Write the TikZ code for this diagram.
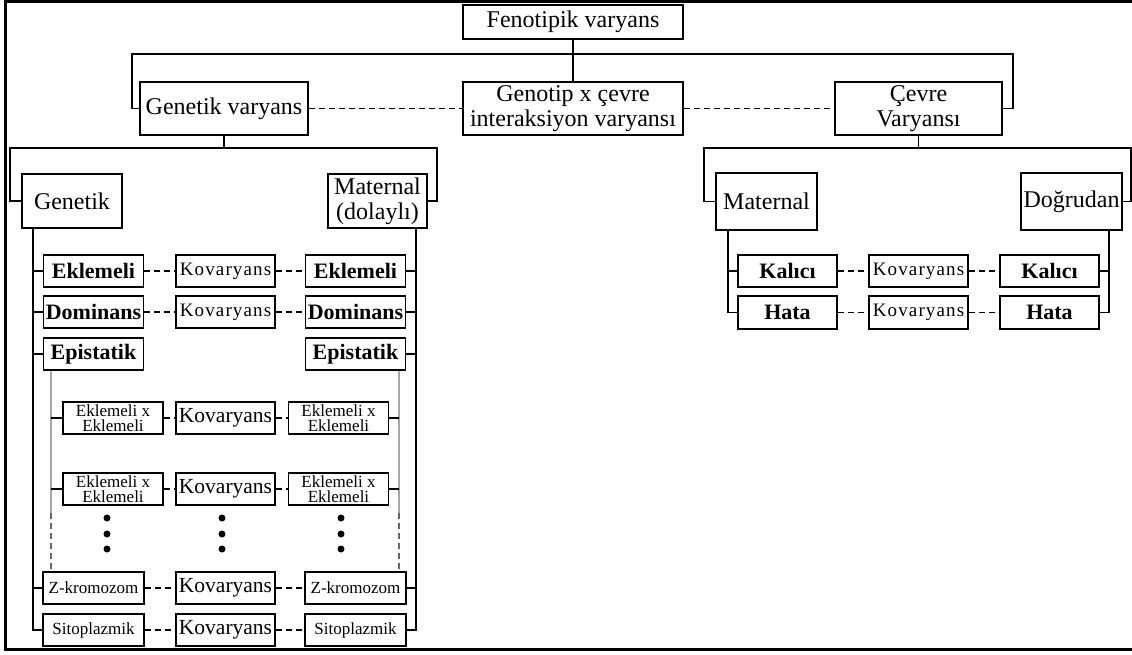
\documentclass[tikz,border=0pt]{standalone}
\usepackage{fontspec}
\setmainfont{Liberation Serif}
\newfontfamily\spacedfont[LetterSpace=6]{Liberation Serif}
\usetikzlibrary{positioning}

\begin{document}
\begin{tikzpicture}[x=1pt, y=-1pt, line width=1.1pt,
  lvl/.style={draw, inner sep=0pt, align=center, font=\fontsize{24}{25}\selectfont},
  rowbox/.style={draw, inner sep=0pt, minimum height=32pt, minimum width=100pt},
  rowb/.style={rowbox, font=\bfseries\fontsize{22}{24}\selectfont},
  kov/.style={rowbox, minimum width=99pt, font=\spacedfont\fontsize{19}{21}\selectfont},
  kovb/.style={rowbox, minimum width=99pt, font=\fontsize{21.5}{23}\selectfont},
  small/.style={rowbox, align=center, font=\fontsize{17}{15.5}\selectfont},
  link/.style={dash pattern=on 6pt off 4pt},
  epi/.style={draw=gray!70}
]
  \useasboundingbox (0,0) rectangle (1132,655);
  % frame
  \draw[line width=3pt] (1132,1.5) -- (5,1.5) -- (5,649.5) -- (1132,649.5);

  % top levels
  \node[lvl, minimum width=220pt, minimum height=34pt] (fen) at (573,22) {Fenotipik varyans};
  \node[lvl, minimum width=168pt, minimum height=53pt] (gen) at (224,108.5) {Genetik varyans};
  \node[lvl, minimum width=220pt, minimum height=53pt] (gxe) at (573,108.5) {Genotip x çevre\\interaksiyon varyansı};
  \node[lvl, minimum width=167pt, minimum height=53pt] (cev) at (918.5,108.5) {Çevre\\Varyansı};

  \node[lvl, minimum width=100pt, minimum height=54pt] (genk) at (72,201) {Genetik};
  \node[lvl, minimum width=99pt, minimum height=54pt] (matd) at (377.5,201) {Maternal\\(dolaylı)};
  \node[lvl, minimum width=101pt, minimum height=57pt] (mat) at (766.5,201.5) {Maternal};
  \node[lvl, minimum width=101pt, minimum height=57pt] (dog) at (1071.5,201.5) {Doğrudan};

  % genetic rows
  \node[rowb] (ek1) at (93.5,271) {Eklemeli};
  \node[kov]  (kv1) at (225.5,271) {Kovaryans};
  \node[rowb] (ek2) at (355.5,271) {Eklemeli};
  \node[rowb] (dm1) at (93.5,312) {Dominans};
  \node[kov]  (kv2) at (225.5,312) {Kovaryans};
  \node[rowb] (dm2) at (355.5,312) {Dominans};
  \node[rowb] (ep1) at (93.5,354) {Epistatik};
  \node[rowb] (ep2) at (355.5,354) {Epistatik};
  \node[small] (ex1) at (113,418) {Eklemeli x\\Eklemeli};
  \node[kovb]  (kv3) at (225.5,418) {Kovaryans};
  \node[small] (ex2) at (338.5,418) {Eklemeli x\\Eklemeli};
  \node[small] (ex3) at (113,489) {Eklemeli x\\Eklemeli};
  \node[kovb]  (kv4) at (225.5,489) {Kovaryans};
  \node[small] (ex4) at (338.5,489) {Eklemeli x\\Eklemeli};
  \node[small, minimum width=101pt] (zk1) at (93.5,588) {Z-kromozom};
  \node[kovb]  (kv5) at (225.5,588) {Kovaryans};
  \node[small, minimum width=101pt] (zk2) at (355.5,588) {Z-kromozom};
  \node[small, minimum width=101pt] (st1) at (93.5,630) {Sitoplazmik};
  \node[kovb]  (kv6) at (225.5,630) {Kovaryans};
  \node[small, minimum width=101pt] (st2) at (355.5,630) {Sitoplazmik};

  % environment rows
  \node[rowb, minimum width=99pt] (ka1) at (787.5,271) {Kalıcı};
  \node[kov]  (kr1) at (918.5,271) {Kovaryans};
  \node[rowb, minimum width=99pt] (ka2) at (1049.5,271) {Kalıcı};
  \node[rowb, minimum width=99pt, minimum height=33pt] (ha1) at (787.5,312.5) {Hata};
  \node[kov, minimum height=33pt]  (kr2) at (918.5,312.5) {Kovaryans};
  \node[rowb, minimum width=99pt, minimum height=33pt] (ha2) at (1049.5,312.5) {Hata};

  % top connectors
  \coordinate (tl) at (132,54);
  \coordinate (tr) at (1013,54);
  \draw (fen.south) -- (gxe.north);
  \draw (gen.west) -| (tl) -- (tr) |- (cev.east);
  \draw[link] (gen.east) -- (gxe.west);
  \draw[link] (gxe.east) -- (cev.west);

  % genetic branch
  \coordinate (gl) at (10,148);
  \coordinate (gr) at (437,148);
  \draw (gen.south) -- (gen.south |- gl);
  \draw (genk.west) -| (gl) -- (gr) |- (matd.east);

  % environment branch
  \coordinate (cl) at (704,148);
  \coordinate (cr) at (1131,148);
  \draw (cev.south) -- (cev.south |- cl);
  \draw (mat.west) -| (cl) -- (cr) |- (dog.east);

  % stems
  \coordinate (sl) at (33,0);
  \coordinate (sr) at (416,0);
  \draw (sl |- genk.south) |- (st1.west);
  \foreach \n in {ek1,dm1,ep1,zk1} \draw (sl |- \n.west) -- (\n.west);
  \draw (sr |- matd.south) |- (st2.east);
  \foreach \n in {ek2,dm2,ep2,zk2} \draw (sr |- \n.east) -- (\n.east);

  \coordinate (ml) at (728,0);
  \coordinate (dr) at (1109,0);
  \draw (ml |- mat.south) |- (ha1.west);
  \draw (ml |- ka1.west) -- (ka1.west);
  \draw (dr |- dog.south) |- (ha2.east);
  \draw (dr |- ka2.east) -- (ka2.east);

  % epistatik stems
  \coordinate (el) at (51,0);
  \coordinate (er) at (399,0);
  \draw[epi] (el |- ep1.south) -- ++(0,142) coordinate (elm);
  \draw[link, draw=gray!80!black] (elm) -- (el |- zk1.north);
  \draw[epi] (er |- ep2.south) -- ++(0,142) coordinate (erm);
  \draw[link, draw=gray!80!black] (erm) -- (er |- zk2.north);
  \foreach \n in {ex1,ex3} \draw (el |- \n.west) -- (\n.west);
  \foreach \n in {ex2,ex4} \draw (er |- \n.east) -- (\n.east);

  % covariance links
  \foreach \a/\b/\c in {ek1/kv1/ek2, dm1/kv2/dm2, ex1/kv3/ex2, ex3/kv4/ex4,
                        zk1/kv5/zk2, st1/kv6/st2, ka1/kr1/ka2, ha1/kr2/ha2} {
    \draw[link] (\a.east) -- (\b.west);
    \draw[link] (\b.east) -- (\c.west);
  }

  % dots
  \foreach \x in {107,222,341}
    \foreach \y in {518,534,549}
      \fill (\x,\y) circle (3.5pt);
\end{tikzpicture}
\end{document}
